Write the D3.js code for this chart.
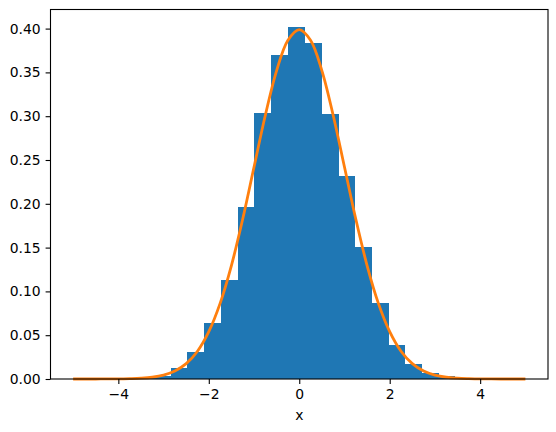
<!DOCTYPE html>
<html>
<head>
<meta charset="utf-8">
<script src="https://cdn.jsdelivr.net/npm/d3@7"></script>
<style>
body { margin: 0; background: #fff; }
text { font-family: "DejaVu Sans", sans-serif; }
</style>
</head>
<body>
<svg id="chart" width="556" height="432"></svg>
<script>
// histogram bin edges and densities
var binEdges = [-3.579, -3.21, -2.84, -2.471, -2.101, -1.732, -1.362, -0.993, -0.623, -0.254,
	0.116, 0.485, 0.855, 1.224, 1.594, 1.963, 2.333, 2.702, 3.072, 3.441, 3.811];
var binHeights = [0.001, 0.003, 0.0125, 0.031, 0.064, 0.113, 0.196, 0.304, 0.370, 0.402,
	0.384, 0.302, 0.232, 0.151, 0.087, 0.039, 0.017, 0.007, 0.003, 0.001];

// curve points
var curveX = [-5, -4.75, -4.5, -4.25, -4, -3.75, -3.5, -3.25, -3, -2.75, -2.5, -2.25, -2, -1.75, -1.5, -1.25, -1, -0.75, -0.5, -0.25,
	0, 0.25, 0.5, 0.75, 1, 1.25, 1.5, 1.75, 2, 2.25, 2.5, 2.75, 3, 3.25, 3.5, 3.75, 4, 4.25, 4.5, 4.75, 5];
var curveY = [0, 0, 0.00002, 0.00005, 0.0001, 0.0004, 0.0009, 0.002, 0.0044, 0.0091, 0.0175, 0.0317, 0.054, 0.0863, 0.1295, 0.1826, 0.242, 0.3011, 0.3521, 0.3867,
	0.3989, 0.3867, 0.3521, 0.3011, 0.242, 0.1826, 0.1295, 0.0863, 0.054, 0.0317, 0.0175, 0.0091, 0.0044, 0.002, 0.0009, 0.0004, 0.0001, 0.00005, 0.00002, 0, 0];

var xTicks = [-4, -2, 0, 2, 4];
var yTicks = [0, 0.05, 0.1, 0.15, 0.2, 0.25, 0.3, 0.35, 0.4];

var plotLeft = 50.5, plotTop = 9.5, plotRight = 548, plotBottom = 379;

var svg = d3.select("#chart");

var x = d3.scaleLinear().domain([-5.5, 5.5]).range([plotLeft, plotRight]);
var y = d3.scaleLinear().domain([0, 0.4218]).range([plotBottom, plotTop]);

var bins = binHeights.map(function (h, i) {
	return {x0: binEdges[i], x1: binEdges[i + 1], h: h};
});

svg.append("g")
	.attr("shape-rendering", "crispEdges")
	.selectAll("rect")
	.data(bins)
	.enter().append("rect")
	.attr("x", d => x(d.x0))
	.attr("width", d => x(d.x1) - x(d.x0) + 0.6)
	.attr("y", d => y(d.h))
	.attr("height", d => y(0) - y(d.h))
	.attr("fill", "#1f77b4");

var line = d3.line()
	.x((d, i) => x(curveX[i]))
	.y(d => y(d))
	.curve(d3.curveCatmullRom);

svg.append("path")
	.datum(curveY)
	.attr("fill", "none")
	.attr("stroke", "#ff7f0e")
	.attr("stroke-width", 2.8)
	.attr("d", line);

var xAxis = svg.append("g")
	.attr("transform", "translate(0," + plotBottom + ")")
	.call(d3.axisBottom(x).tickValues(xTicks).tickSize(4.9).tickPadding(4.9)
		.tickFormat(d => d < 0 ? "\u2212" + Math.abs(d) : d));
var yAxis = svg.append("g")
	.attr("transform", "translate(" + plotLeft + ",0)")
	.call(d3.axisLeft(y).tickValues(yTicks).tickSize(4.9).tickPadding(4.9)
		.tickFormat(d3.format(".2f")));

[xAxis, yAxis].forEach(function (g) {
	g.select(".domain").remove();
	g.selectAll("line").attr("stroke", "#000").attr("stroke-width", 1.1);
	g.selectAll("text").attr("font-size", 13.9).attr("fill", "#000")
		.style("font-family", "DejaVu Sans");
});

svg.append("rect")
	.attr("x", plotLeft).attr("y", plotTop)
	.attr("width", plotRight - plotLeft).attr("height", plotBottom - plotTop)
	.attr("fill", "none").attr("stroke", "#000").attr("stroke-width", 1.1);

svg.append("text")
	.attr("x", (plotLeft + plotRight) / 2)
	.attr("y", 420)
	.attr("text-anchor", "middle")
	.attr("font-size", 13.9)
	.text("x");
</script>
</body>
</html>
